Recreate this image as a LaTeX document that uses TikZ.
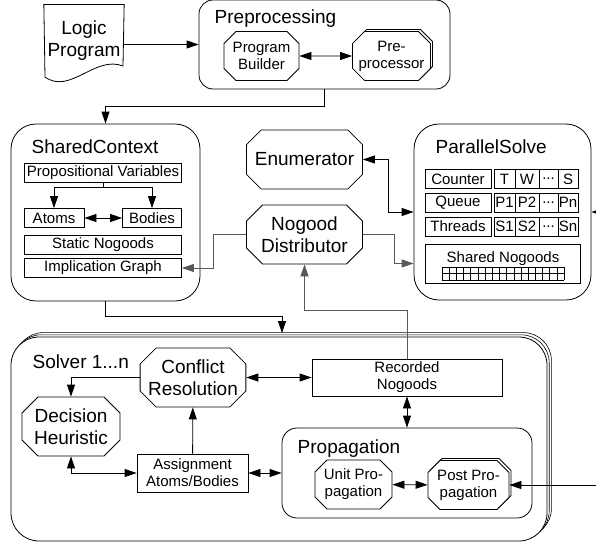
\documentclass[tikz,border=0pt]{standalone}
\usepackage{fontspec}
\setmainfont{Liberation Sans}
\usetikzlibrary{arrows.meta,shapes.misc,shadows}

\begin{document}
\begin{tikzpicture}[x=1pt,y=-1pt,line width=0.8pt]
    \tikzset{box/.style = {shape=rectangle,draw,fill=white,inner sep=0pt,align=center}}
    \tikzset{group/.style = {shape=rectangle,draw,fill=white,rounded corners=25pt}}
    \tikzset{octo/.style = {shape=chamfered rectangle,draw,fill=white,inner sep=0pt,align=center,
        chamfered rectangle xsep=#1,chamfered rectangle ysep=#1}, octo/.default=8pt}
    \tikzset{stacked/.style = {copy shadow={shadow xshift=2pt,shadow yshift=2pt}}}
    \tikzset{big/.style = {font=\fontsize{19}{22}\selectfont}}
    \tikzset{small/.style = {font=\fontsize{15}{17}\selectfont}}
    \tikzset{edge/.style = {-{Triangle[length=12pt,width=8pt]}}}
    \tikzset{twoway/.style = {{Triangle[length=12pt,width=8pt]}-{Triangle[length=12pt,width=8pt]}}}
    \tikzset{dim/.style = {draw=black!65}}
    \useasboundingbox (0,0) rectangle (596,543);

    % input
    \node[big,align=center,minimum width=78pt,minimum height=72pt] (logic) at (84,41) {Logic\\Program};
    \draw (logic.north west) -- (logic.north east) -- (123,66)
        .. controls (95,55) and (70,95) .. (45,77) -- cycle;

    % preprocessing
    \node[group,rounded corners=14pt,minimum width=251pt,minimum height=89pt] (prep) at (324.5,44.5) {};
    \node[big,anchor=base west] (preptitle) at (211,24) {Preprocessing};
    \node[octo=6pt,small,minimum width=75pt,minimum height=49pt] (builder) at (261.5,56) {Program\\Builder};
    \node[octo=6pt,small,stacked,minimum width=77pt,minimum height=49pt] (preproc) at (391.5,56) {Pre-\\processor};

    % shared context
    \node[group,minimum width=189pt,minimum height=177pt] (shared) at (105.5,212.5) {};
    \node[big,anchor=base west] (sharedtitle) at (28,153) {SharedContext};
    \node[box,small,minimum width=157pt,minimum height=19pt] (vars) at (103,172.5) {Propositional Variables};
    \node[box,small,minimum width=60pt,minimum height=19pt] (atoms) at (54,218) {Atoms};
    \node[box,small,minimum width=59pt,minimum height=19pt] (bodies) at (152,218) {Bodies};
    \node[box,small,minimum width=157pt,minimum height=19pt] (static) at (103,244.5) {Static Nogoods};
    \node[box,small,minimum width=157pt,minimum height=19pt] (implic) at (103,268) {Implication Graph};

    % middle
    \node[octo,big,minimum width=116pt,minimum height=59pt] (enum) at (304.5,159.5) {Enumerator};
    \node[octo,big,minimum width=116pt,minimum height=59pt] (distrib) at (304.5,234.5) {Nogood\\Distributor};

    % parallel solve
    \node[group,minimum width=177pt,minimum height=176pt] (parallel) at (502.5,212) {};
    \node[big,anchor=base west] (paralleltitle) at (432,153) {ParallelSolve};
    \foreach \row/\name/\y/\a/\b/\z in {counter/Counter/179/T/W/S, queue/Queue/202.5/P1/P2/Pn, threads/Threads/226.5/S1/S2/Sn}{
        \node[box,small,minimum width=66pt,minimum height=19pt] (\row) at (458,\y) {\name};
        \node[box,small,minimum width=21pt,minimum height=19pt] (\row-a) at (504.5,\y) {\a};
        \node[box,small,minimum width=24pt,minimum height=19pt] (\row-b) at (527,\y) {\b};
        \node[box,small,minimum width=19pt,minimum height=19pt] (\row-c) at (548.5,\y) {...};
        \node[box,small,minimum width=20pt,minimum height=19pt] (\row-d) at (568,\y) {\z};
    }
    \node[box,minimum width=155pt,minimum height=39pt] (pool) at (502.5,263.5) {};
    \node[small,anchor=base] (pooltitle) at (503,262) {Shared Nogoods};
    \foreach \i in {0,...,17}
        \draw[line width=0.5pt] ({442+\i*122/17},267) -- ++(0,13);
    \foreach \j in {267,273.5,280}
        \draw[line width=0.5pt] (442,\j) -- (564,\j);

    % solver
    \node[group,rounded corners=28pt,
        double copy shadow={shadow xshift=2.2pt,shadow yshift=2.2pt,line width=0.6pt},
        minimum width=536pt,minimum height=204pt] (solver) at (279,439) {};
    \node[big,anchor=base west] (solvertitle) at (29,368) {Solver 1...n};
    \node[octo,big,minimum width=98pt,minimum height=59pt] (conflict) at (193,377.5) {Conflict\\Resolution};
    \node[octo,big,minimum width=98pt,minimum height=59pt] (decision) at (71,426.5) {Decision\\Heuristic};
    \node[box,small,minimum width=111pt,minimum height=38pt] (assign) at (192.5,473) {Assignment\\Atoms/Bodies};
    \node[box,small,minimum width=190pt,minimum height=37pt] (recorded) at (407,377.5) {Recorded\\Nogoods};
    \node[group,rounded corners=15pt,minimum width=250pt,minimum height=90pt] (prop) at (407,473) {};
    \node[big,anchor=base west] (proptitle) at (294,453) {Propagation};
    \node[octo=6pt,small,minimum width=77pt,minimum height=49pt] (unit) at (353.5,484.5) {Unit Pro-\\pagation};
    \node[octo=6pt,small,stacked,minimum width=81pt,minimum height=49pt] (post) at (468.5,485) {Post Pro-\\pagation};

    \coordinate (solvertop) at (282,333);
    \coordinate (parallelin) at (604,212);
    \coordinate (postin) at (604,485);

    % connections
    \draw[edge] (logic.east |- prep.west) -- (prep.west);
    \draw[twoway] (builder) -- (preproc);
    \draw[edge] (prep.south) -- ++(0,17) -| (shared.north);
    \draw[edge] (vars.south) -- ++(0,5) -| (atoms.north);
    \draw[edge] (vars.south) -- ++(0,5) -| (bodies.north);
    \draw[twoway] (atoms) -- (bodies);
    \draw[edge,dim] (distrib.west) -- ++(-33,0) |- (implic.east);
    \draw[twoway] (enum.east) -- ++(25,0) |- (parallel.west);
    \draw[edge,dim] (distrib.east) -- ++(31,0) |- (parallel.west |- pool.west);
    \draw[edge] (parallelin) -- (parallel.east);
    \draw[edge,dim] (recorded.north) -- ++(0,-48) -| (distrib.south);
    \draw[edge] (shared.south) -- ++(0,15) -| (solvertop);
    \draw[edge] (conflict.west) -| (decision.north);
    \draw[edge] (assign) -- (conflict);
    \draw[twoway] (decision.south) |- (assign.west);
    \draw[twoway] (assign) -- (prop);
    \draw[twoway] (conflict) -- (recorded);
    \draw[twoway] (recorded) -- (prop);
    \draw[twoway] (unit) -- (post);
    \draw[edge] (postin) -- (post.east);
\end{tikzpicture}
\end{document}
